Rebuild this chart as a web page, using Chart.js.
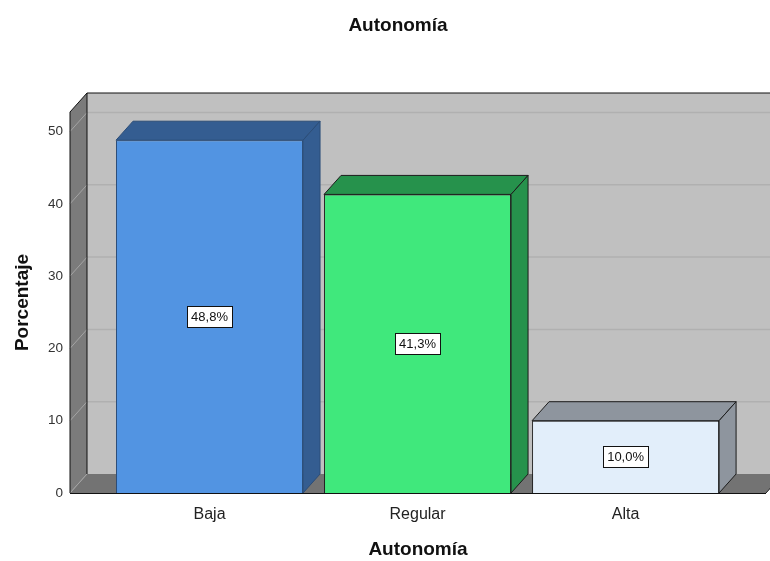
<!DOCTYPE html>
<html>
<head>
<meta charset="utf-8">
<script src="https://cdn.jsdelivr.net/npm/chart.js@4"></script>
<style>
  html, body { margin: 0; background: #fff; }
  #wrap { width: 770px; height: 561px; }
</style>
</head>
<body>
<div id="wrap"><canvas id="chart"></canvas></div>
<script>
const categories = ["Baja", "Regular", "Alta"];
const percentages = [48.8, 41.3, 10.0];
const valueLabels = ["48,8%", "41,3%", "10,0%"];
const yTickValues = [0, 10, 20, 30, 40, 50];

const frontColors = ["#5294e2", "#40e87c", "#e2eefa"];
const shadeColors = ["#345d91", "#26924c", "#8e959e"];
const edgeColors = ["#2b4d78", "#1c1c1c", "#1c1c1c"];

const FONT = '"Liberation Sans", Arial, sans-serif';
const DX = 17, DY = -19; // depth of the 3D effect

function poly(ctx, pts, fill, stroke) {
  ctx.beginPath();
  pts.forEach(([x, y], i) => (i ? ctx.lineTo(x, y) : ctx.moveTo(x, y)));
  ctx.closePath();
  if (fill) { ctx.fillStyle = fill; ctx.fill(); }
  if (stroke) { ctx.strokeStyle = stroke; ctx.lineWidth = 1; ctx.stroke(); }
}

function line(ctx, pts, color, width = 1) {
  ctx.beginPath();
  pts.forEach(([x, y], i) => (i ? ctx.lineTo(x, y) : ctx.moveTo(x, y)));
  ctx.strokeStyle = color;
  ctx.lineWidth = width;
  ctx.stroke();
}

const scene = {
  id: "scene",
  beforeDatasetsDraw(chart) {
    const { ctx, chartArea: a, scales: { y } } = chart;
    ctx.save();
    // back wall, left wall, floor
    ctx.fillStyle = "#c0c0c0";
    ctx.fillRect(a.left + DX, a.top + DY, a.right - a.left, a.bottom - a.top);
    poly(ctx, [[a.left, a.top], [a.left + DX, a.top + DY], [a.left + DX, a.bottom + DY], [a.left, a.bottom]], "#7b7b7b");
    poly(ctx, [[a.left, a.bottom], [a.left + DX, a.bottom + DY], [a.right + DX, a.bottom + DY], [a.right, a.bottom]], "#737373");
    line(ctx, [[a.right, a.bottom], [a.right + DX, a.bottom + DY]], "#222");

    // grid lines
    y.ticks.forEach((t) => {
      const py = y.getPixelForValue(t.value);
      line(ctx, [[a.left, py], [a.left + DX, py + DY]], "#a4a4a4");
      if (t.value !== 0) line(ctx, [[a.left + DX, py + DY], [a.right + DX, py + DY]], "#b0b0b0", 1.5);
    });

    // frame edges
    line(ctx, [[a.left, a.bottom], [a.left, a.top], [a.left + DX, a.top + DY], [a.right + DX, a.top + DY]], "#111");
    line(ctx, [[a.left + DX, a.top + DY], [a.left + DX, a.bottom + DY]], "#111");
    line(ctx, [[a.left, a.bottom + 0.5], [a.right, a.bottom + 0.5]], "#111");

    // top and side faces of the bars
    chart.getDatasetMeta(0).data.forEach((bar, i) => {
      const { x, y: top, base, width } = bar.getProps(["x", "y", "base", "width"], true);
      const l = x - width / 2, r = x + width / 2;
      poly(ctx, [[l, top], [l + DX, top + DY], [r + DX, top + DY], [r, top]], shadeColors[i], edgeColors[i]);
      poly(ctx, [[r, top], [r + DX, top + DY], [r + DX, base + DY], [r, base]], shadeColors[i], edgeColors[i]);
    });
    ctx.restore();
  },
  afterDatasetsDraw(chart) {
    const { ctx } = chart;
    ctx.save();
    ctx.font = "13px " + FONT;
    ctx.textAlign = "center";
    ctx.textBaseline = "middle";
    chart.getDatasetMeta(0).data.forEach((bar, i) => {
      const { x, y: top, base } = bar.getProps(["x", "y", "base"], true);
      const cy = (top + base) / 2;
      const w = ctx.measureText(valueLabels[i]).width + 8, h = 21;
      ctx.fillStyle = "#fff";
      ctx.fillRect(Math.round(x - w / 2) + 0.5, Math.round(cy - h / 2) + 0.5, Math.round(w), h);
      ctx.strokeStyle = "#111";
      ctx.lineWidth = 1;
      ctx.strokeRect(Math.round(x - w / 2) + 0.5, Math.round(cy - h / 2) + 0.5, Math.round(w), h);
      ctx.fillStyle = "#111";
      ctx.fillText(valueLabels[i], x, cy + 1);
    });
    // chart title
    ctx.font = "bold 19px " + FONT;
    ctx.fillStyle = "#111";
    ctx.fillText("Autonomía", 398, 26);
    ctx.restore();
  }
};

new Chart(document.getElementById("chart"), {
  type: "bar",
  data: {
    datasets: [{
      data: categories.map((c, i) => ({ x: i, y: percentages[i] })),
      backgroundColor: frontColors,
      borderColor: edgeColors,
      borderWidth: 1,
      categoryPercentage: 1,
      barPercentage: 0.899
    }]
  },
  options: {
    responsive: true,
    maintainAspectRatio: false,
    animation: false,
    layout: { padding: { top: 112, right: 4, left: 0, bottom: 0 } },
    plugins: { legend: { display: false }, tooltip: { enabled: false }, title: { display: false } },
    scales: {
      x: {
        type: "linear",
        offset: false,
        min: -0.6707,
        max: 2.675,
        afterBuildTicks: (s) => { s.ticks = categories.map((c, i) => ({ value: i })); },
        afterFit: (s) => { s.height = 68; },
        grid: { display: false, drawTicks: false, offset: false },
        border: { display: false },
        ticks: {
          autoSkip: false, maxRotation: 0, padding: 12,
          color: "#222", font: { family: FONT, size: 16 },
          callback: (v) => categories[v]
        },
        title: { display: true, text: "Autonomía", color: "#111", padding: { top: 0, bottom: 0 }, font: { family: FONT, size: 19, weight: "bold" } }
      },
      y: {
        min: 0,
        max: 52.7,
        afterBuildTicks: (s) => { s.ticks = yTickValues.map((v) => ({ value: v })); },
        afterFit: (s) => { s.width = 70; },
        grid: { display: false, drawTicks: false },
        border: { display: false },
        ticks: { padding: 7, color: "#333", font: { family: FONT, size: 13.5 } },
        title: { display: true, text: "Porcentaje", color: "#111", padding: { top: 11, bottom: 0 }, font: { family: FONT, size: 19, weight: "bold" } }
      }
    }
  },
  plugins: [scene]
});
</script>
</body>
</html>
